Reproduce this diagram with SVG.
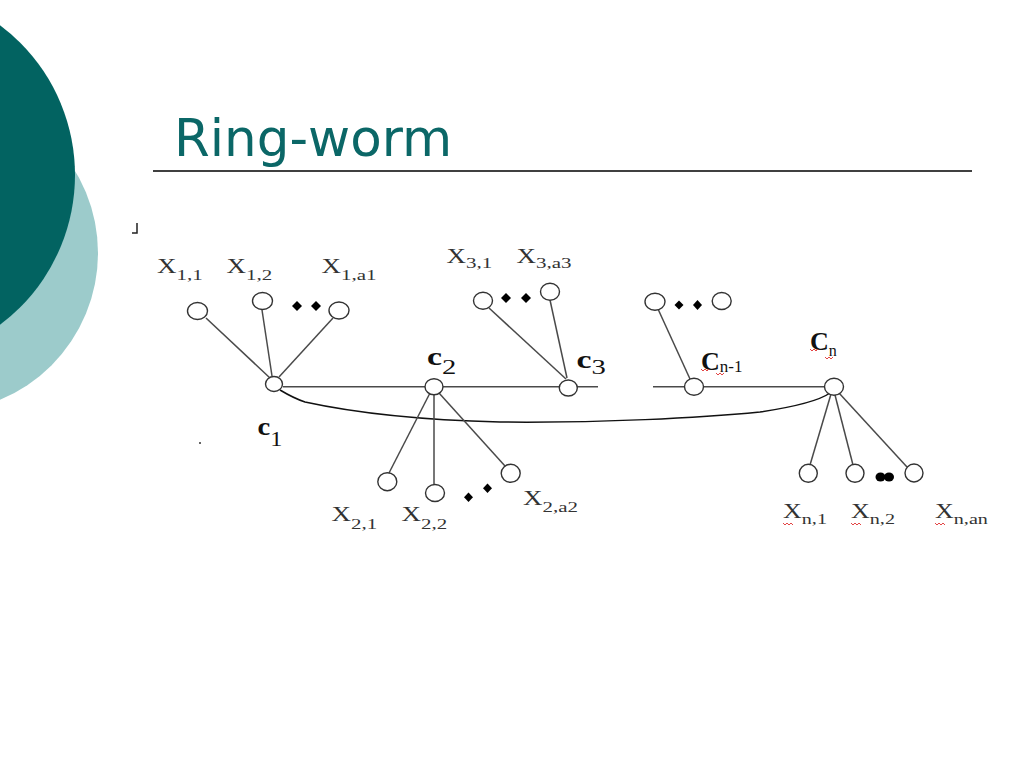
<svg xmlns="http://www.w3.org/2000/svg" width="1024" height="768" viewBox="0 0 1024 768">
<style>
.node{fill:#fff;stroke:#333;stroke-width:1.4}
.edge{stroke:#4a4a4a;stroke-width:1.5;fill:none}
.ring{stroke:#111;stroke-width:1.5;fill:none}
.dot{fill:#000}
.lx{font-family:"Liberation Serif",serif;font-size:20px;fill:#333}
.sub{font-size:15.5px}
.lc{font-family:"Liberation Serif",serif;font-weight:bold;font-size:26px;fill:#111}
.cs{font-weight:normal;font-size:22px}
.sq{stroke:#e03030;stroke-width:0.9;fill:none}
</style>
<rect width="1024" height="768" fill="#fff"/>
<g id="background">
<circle cx="-61" cy="253" r="159" fill="#9ccbcb"/>
<circle cx="-112" cy="175" r="187" fill="#026361"/>
</g>
<g id="title">
<text x="174" y="156" font-family="DejaVu Sans, sans-serif" font-size="51.5" fill="#0b6767">Ring-worm</text>
<line x1="153" y1="171" x2="972" y2="171" stroke="#000" stroke-width="1.3"/>
</g>
<g id="marks">
<path d="M137,223 V233 H132" stroke="#222" stroke-width="1.5" fill="none"/>
<circle cx="200" cy="443" r="1" fill="#333"/>
</g>
<g id="connectors">
<line class="edge" x1="283" y1="386.7" x2="598" y2="386.7"/>
<line class="edge" x1="653" y1="386.7" x2="826" y2="386.7"/>
<path class="ring" d="M280,390 C290,396 296,399 305,402 C360,414 420,420 500,422 C600,423 700,418 760,412 C800,406 820,400 830,393"/>
<line class="edge" x1="206" y1="318" x2="270" y2="378"/>
<line class="edge" x1="262" y1="310" x2="272" y2="376"/>
<line class="edge" x1="333" y1="318" x2="279" y2="377"/>
<line class="edge" x1="489" y1="308" x2="566" y2="379"/>
<line class="edge" x1="550" y1="300" x2="567" y2="378"/>
<line class="edge" x1="658" y1="309" x2="690" y2="379"/>
<line class="edge" x1="430" y1="393" x2="389" y2="473"/>
<line class="edge" x1="434" y1="394" x2="434" y2="484"/>
<line class="edge" x1="439" y1="393" x2="505" y2="466"/>
<line class="edge" x1="831" y1="394" x2="810" y2="465"/>
<line class="edge" x1="835" y1="395" x2="853" y2="465"/>
<line class="edge" x1="839" y1="393" x2="907" y2="467"/>
</g>
<g id="n-x11"><ellipse class="node" cx="197.5" cy="311" rx="10" ry="8.5"/></g>
<g id="n-x12"><ellipse class="node" cx="262.5" cy="301" rx="10" ry="8.5"/></g>
<g id="n-x1a1"><ellipse class="node" cx="339" cy="310.5" rx="10" ry="8.5"/></g>
<g id="n-c1"><ellipse class="node" cx="274" cy="384" rx="8.5" ry="7.5"/></g>
<g id="n-c2"><ellipse class="node" cx="434" cy="386.7" rx="9" ry="8"/></g>
<g id="n-c3"><ellipse class="node" cx="568.3" cy="388" rx="9" ry="8"/></g>
<g id="n-x31"><ellipse class="node" cx="483" cy="300.7" rx="9.5" ry="8.5"/></g>
<g id="n-x3a3"><ellipse class="node" cx="550" cy="291.7" rx="9.5" ry="8.5"/></g>
<g id="n-xn1a"><ellipse class="node" cx="655" cy="301.7" rx="10" ry="8.5"/></g>
<g id="n-xn1b"><ellipse class="node" cx="721.7" cy="301" rx="9.5" ry="8.5"/></g>
<g id="n-cn1"><ellipse class="node" cx="694" cy="386.7" rx="9.5" ry="8.5"/></g>
<g id="n-cn"><ellipse class="node" cx="834" cy="386.7" rx="9.5" ry="8.5"/></g>
<g id="n-x21"><ellipse class="node" cx="387.3" cy="481.7" rx="9.5" ry="9"/></g>
<g id="n-x22"><ellipse class="node" cx="435" cy="493" rx="9.5" ry="8.5"/></g>
<g id="n-x2a2"><ellipse class="node" cx="510.7" cy="473.3" rx="9.5" ry="9"/></g>
<g id="n-xn-1"><ellipse class="node" cx="808.3" cy="473.3" rx="9" ry="9"/></g>
<g id="n-xn-2"><ellipse class="node" cx="855" cy="473.3" rx="9" ry="9"/></g>
<g id="n-xn-an"><ellipse class="node" cx="914" cy="473" rx="9" ry="9"/></g>
<g id="ellipses">
<path class="dot" d="M297,301 L302,306 L297,311 L292,306 Z"/>
<path class="dot" d="M316,301 L321,306 L316,311 L311,306 Z"/>
<path class="dot" d="M506,293 L511,298 L506,303 L501,298 Z"/>
<path class="dot" d="M526,293 L531,298 L526,303 L521,298 Z"/>
<path class="dot" d="M679,300.5 L683.5,305 L679,309.5 L674.5,305 Z"/>
<path class="dot" d="M697.5,300 L702,305 L697.5,310 L693,305 Z"/>
<path class="dot" d="M468.5,492.5 L473,497.3 L468.5,502 L464,497.3 Z"/>
<path class="dot" d="M487.5,483.5 L492,488.3 L487.5,493 L483,488.3 Z"/>
<ellipse class="dot" cx="880.5" cy="477" rx="5" ry="4.5"/>
<ellipse class="dot" cx="889" cy="477" rx="5" ry="4.5"/>
</g>
<g id="labels">
<text class="lx" transform="translate(157,273) scale(1.35,1)">X<tspan class="sub" dy="7">1,1</tspan></text>
<text class="lx" transform="translate(226.5,273) scale(1.35,1)">X<tspan class="sub" dy="7">1,2</tspan></text>
<text class="lx" transform="translate(321.5,273) scale(1.35,1)">X<tspan class="sub" dy="7">1,a1</tspan></text>
<text class="lx" transform="translate(446.5,263) scale(1.35,1)">X<tspan class="sub" dy="5">3,1</tspan></text>
<text class="lx" transform="translate(516.5,263) scale(1.35,1)">X<tspan class="sub" dy="5">3,a3</tspan></text>
<text class="lx" transform="translate(331.5,521) scale(1.35,1)">X<tspan class="sub" dy="8">2,1</tspan></text>
<text class="lx" transform="translate(401.5,521) scale(1.35,1)">X<tspan class="sub" dy="8">2,2</tspan></text>
<text class="lx" transform="translate(523,505) scale(1.35,1)">X<tspan class="sub" dy="7">2,a2</tspan></text>
<text class="lx" transform="translate(783,518) scale(1.3,1)">X<tspan class="sub" dy="6">n,1</tspan></text>
<text class="lx" transform="translate(851,518) scale(1.3,1)">X<tspan class="sub" dy="6">n,2</tspan></text>
<text class="lx" transform="translate(935,518) scale(1.3,1)">X<tspan class="sub" dy="6">n,an</tspan></text>
<text class="lc" transform="translate(427,365) scale(1.3,1)">c<tspan class="cs" dy="9">2</tspan></text>
<text class="lc" transform="translate(576.5,368) scale(1.3,1)">c<tspan class="cs" dy="6">3</tspan></text>
<text class="lc" font-size="31" transform="translate(257.5,435) scale(1.1,1)">c<tspan class="cs" font-size="25" dy="11">1</tspan></text>
<text class="lc" font-size="22" transform="translate(701,370)">C<tspan font-weight="normal" font-size="17" dy="2">n-1</tspan></text>
<text class="lc" font-size="22" transform="translate(810,350)">C<tspan font-weight="normal" font-size="16" dy="6">n</tspan></text>
<path class="sq" d="M701,369 l2,2 l2,-2 l2,2 l2,-2 M716,373 l2,2 l2,-2 l2,2 l2,-2"/>
<path class="sq" d="M810,349 l2,2 l2,-2 l2,2 l2,-2 M825,357 l2,2 l2,-2 l2,2 l2,-2"/>
<path class="sq" d="M783,523 l2,2 l2,-2 l2,2 l2,-2 l2,2"/>
<path class="sq" d="M851,523 l2,2 l2,-2 l2,2 l2,-2 l2,2"/>
<path class="sq" d="M935,523 l2,2 l2,-2 l2,2 l2,-2 l2,2"/>
</g>
</svg>
